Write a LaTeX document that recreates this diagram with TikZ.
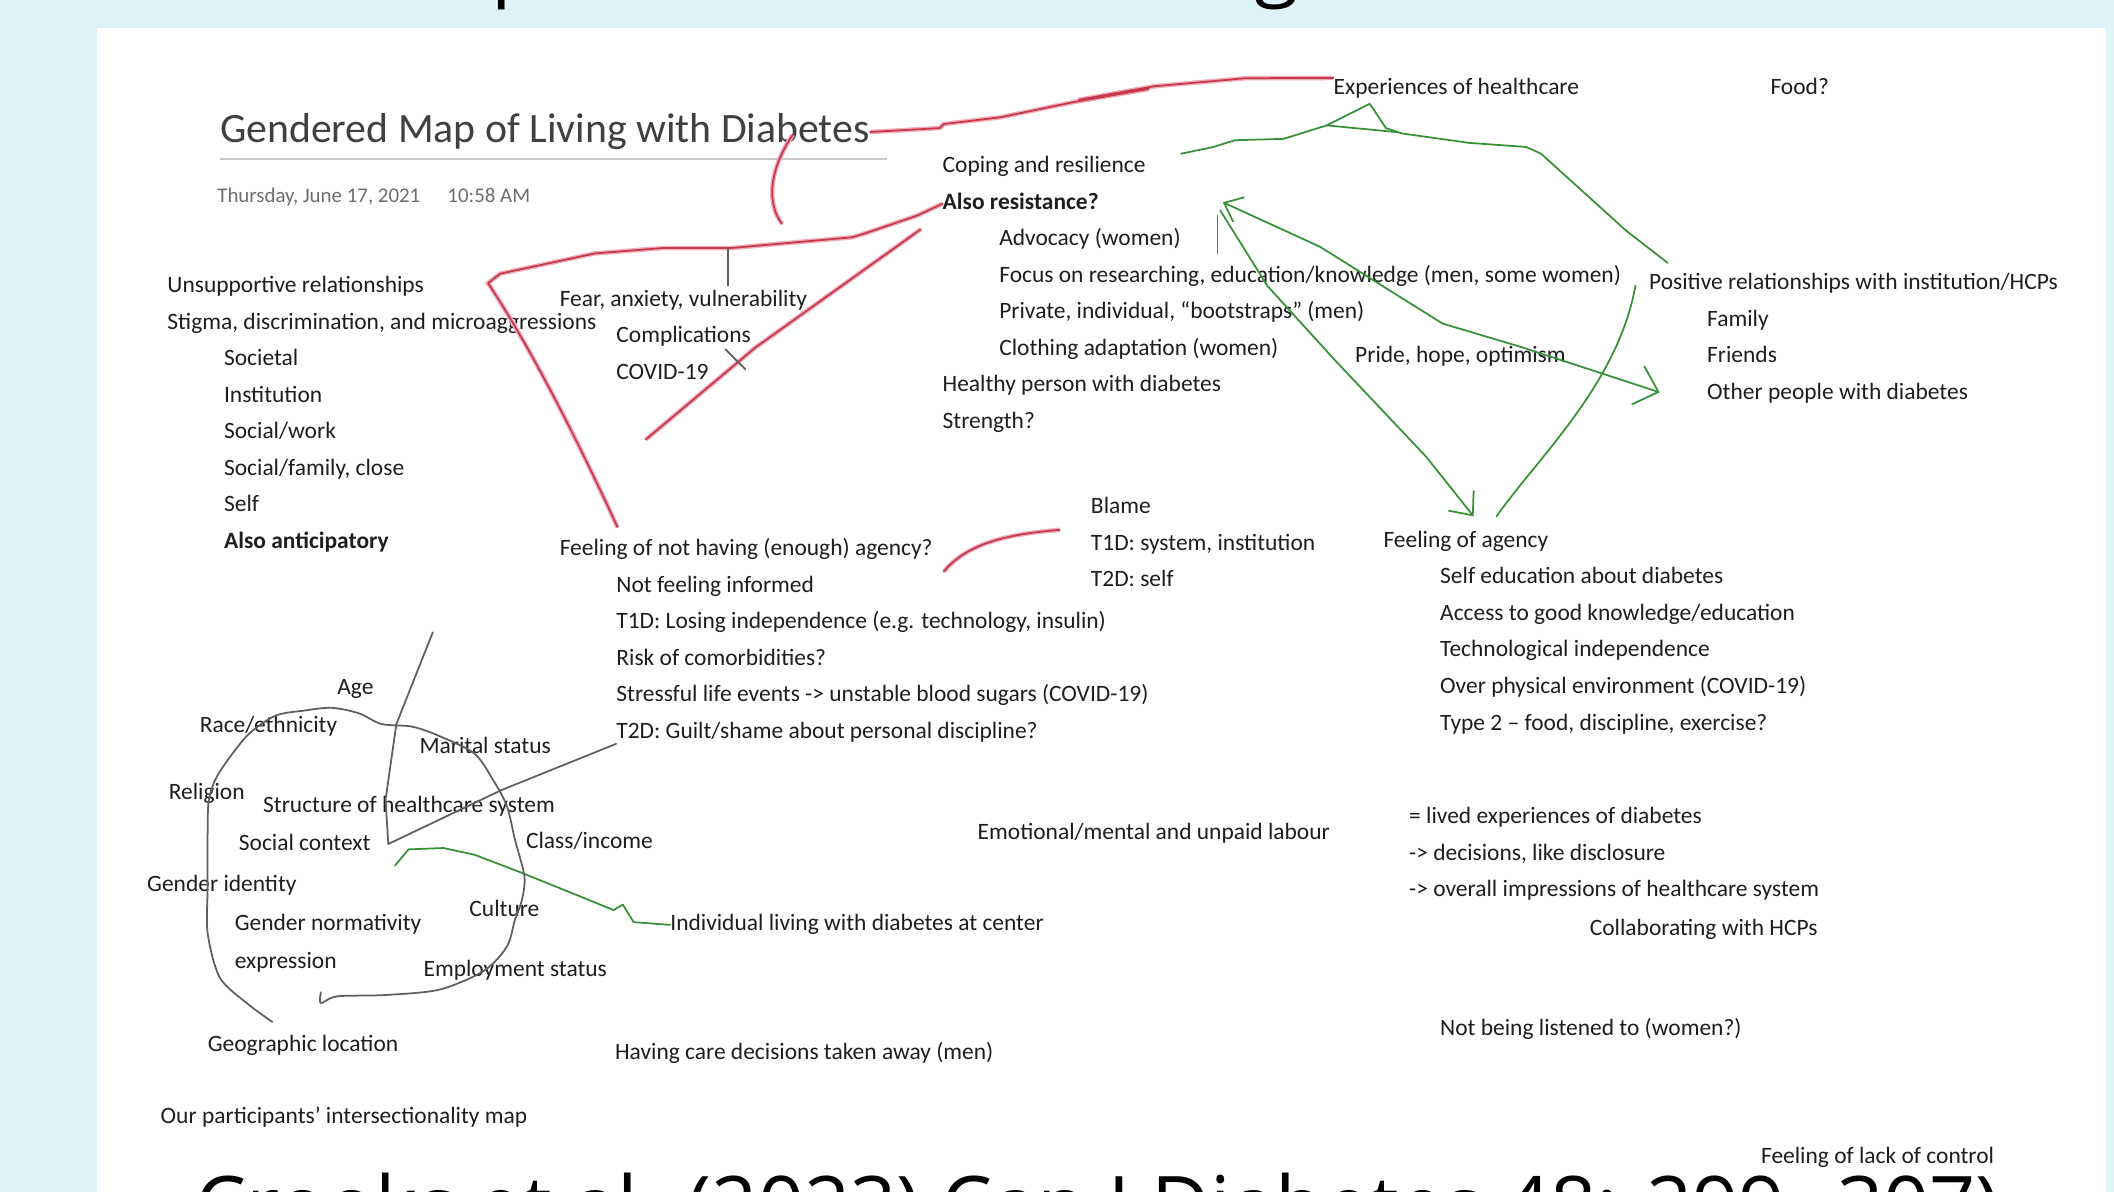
\documentclass[tikz,border=0pt]{standalone}
\usepackage{fontspec}
\setmainfont{Carlito}
\newfontfamily\slidefont{Open Sans}
\usetikzlibrary{arrows.meta, positioning}
\definecolor{slideblue}{RGB}{221,243,249}
\definecolor{inkgray}{RGB}{30,30,30}
\definecolor{titlegray}{RGB}{64,64,64}
\definecolor{dategray}{RGB}{110,110,110}
\definecolor{rulegray}{RGB}{200,200,200}
\definecolor{penred}{RGB}{200,55,75}
\definecolor{penpink}{RGB}{236,175,185}
\definecolor{pengreen}{RGB}{55,145,55}
\definecolor{pengray}{RGB}{95,95,95}

\begin{document}
\begin{tikzpicture}[
  x=1pt, y=-1pt,
  node distance=10.7pt,
  entry/.style={anchor=west, inner sep=0pt, text height=12pt, text depth=4pt,
                font=\fontsize{17.4}{20}\selectfont, text=inkgray},
  sub/.style={entry, below=of #1.south west, anchor=north west},
  pagetitle/.style={anchor=base west, inner sep=0pt, font=\fontsize{31}{36}\selectfont, text=titlegray},
  datestamp/.style={anchor=base west, inner sep=0pt, font=\fontsize{15.5}{18}\selectfont, text=dategray},
  slidetxt/.style={anchor=base west, inner sep=0pt, font=\slidefont\fontsize{60}{66}\selectfont, text=black},
  redpen/.style={draw=penred, line width=1.3pt, line join=round, line cap=round,
                 preaction={draw=penpink, line width=3.4pt}},
  greenpen/.style={draw=pengreen, line width=1.3pt, line join=round, line cap=round},
  graypen/.style={draw=pengray, line width=1.3pt, line join=round, line cap=round},
  barb/.style={-{Straight Barb[length=14pt, width=24pt]}}
]
\useasboundingbox (0,0) rectangle (1568,884);
\clip (0,0) rectangle (1568,884);

% Slide background and the cut-off slide heading
\fill[slideblue] (0,0) rectangle (1568,884);
\node[slidetxt] (glyphp) at (364,-7) {p};
\node[slidetxt] (glyphg) at (930,-7) {g};
\fill[white] (72,21) rectangle (1562,884);

% Page header
\node[pagetitle] (title) at (163,106) {Gendered Map of Living with Diabetes};
\draw[rulegray, line width=2pt] ([yshift=-12pt]title.base west) -- ++(495,0);
\node[datestamp] (date) at (161,150) {Thursday, June 17, 2021\hspace{1.3em}10:58 AM};

% Left column
\node[entry] (unsupp) at (124,213) {Unsupportive relationships};
\node[sub=unsupp] (stigma) {Stigma, discrimination, and microaggressions};
\node[sub=stigma, xshift=42pt] (societal) {Societal};
\node[sub=societal] (institution) {Institution};
\node[sub=institution] (socwork) {Social/work};
\node[sub=socwork] (socfam) {Social/family, close};
\node[sub=socfam] (self) {Self};
\node[sub=self] (anticip) {\bfseries Also anticipatory};

\node[entry] (fear) at (415,223) {Fear, anxiety, vulnerability};
\node[sub=fear, xshift=42pt] (compl) {Complications};
\node[sub=compl] (covid) {COVID-19};

% Coping column
\node[entry] (coping) at (699,124) {Coping and resilience};
\node[sub=coping] (resist) {\bfseries Also resistance?};
\node[sub=resist, xshift=42pt] (advocacy) {Advocacy (women)};
\node[sub=advocacy] (focus) {Focus on researching, education/knowledge (men, some women)};
\node[sub=focus] (private) {Private, individual, ``bootstraps'' (men)};
\node[sub=private] (clothing) {Clothing adaptation (women)};
\node[sub=clothing, xshift=-42pt] (healthy) {Healthy person with diabetes};
\node[sub=healthy] (strength) {Strength?};

% Right column
\node[entry] (exph) at (989,66) {Experiences of healthcare};
\node[entry] (food) at (1313,66) {Food?};
\node[entry] (posrel) at (1223,211) {Positive relationships with institution/HCPs};
\node[sub=posrel, xshift=43pt] (family) {Family};
\node[sub=family] (friends) {Friends};
\node[sub=friends] (others) {Other people with diabetes};
\node[entry] (pride) at (1005,265) {Pride, hope, optimism};

% Agency
\node[entry] (notagency) at (415,408) {Feeling of not having (enough) agency?};
\node[sub=notagency, xshift=42pt] (notinf) {Not feeling informed};
\node[sub=notinf] (t1dlose) {T1D: Losing independence (e.g. technology, insulin)};
\node[sub=t1dlose] (risk) {Risk of comorbidities?};
\node[sub=risk] (stress) {Stressful life events -> unstable blood sugars (COVID-19)};
\node[sub=stress] (t2dguilt) {T2D: Guilt/shame about personal discipline?};

\node[entry] (blame) at (809,377) {Blame};
\node[sub=blame] (t1dsys) {T1D: system, institution};
\node[sub=t1dsys] (t2dself) {T2D: self};

\node[entry] (agency) at (1026,402) {Feeling of agency};
\node[sub=agency, xshift=42pt] (selfedu) {Self education about diabetes};
\node[sub=selfedu] (access) {Access to good knowledge/education};
\node[sub=access] (techind) {Technological independence};
\node[sub=techind] (overphys) {Over physical environment (COVID-19)};
\node[sub=overphys] (type2) {Type 2 -- food, discipline, exercise?};

% Intersectionality map
\node[entry] (age) at (250,511) {Age};
\node[entry] (race) at (148,539) {Race/ethnicity};
\node[entry] (marital) at (311,555) {Marital status};
\node[entry] (religion) at (125,589) {Religion};
\node[entry] (structure) at (195,599) {Structure of healthcare system};
\node[entry] (socctx) at (177,627) {Social context};
\node[entry] (class) at (390,625) {Class/income};
\node[entry] (genid) at (109,657) {Gender identity};
\node[entry] (gennorm) at (174,686) {Gender normativity};
\node[entry] (culture) at (348,676) {Culture};
\node[entry] (expr) at (174,714) {expression};
\node[entry] (employ) at (314,720) {Employment status};
\node[entry] (geo) at (154,776) {Geographic location};
\node[entry] (indiv) at (497,686) {Individual living with diabetes at center};
\node[entry] (care) at (456,782) {Having care decisions taken away (men)};
\node[entry] (ourmap) at (119,829) {Our participants' intersectionality map};

% Lower right
\node[entry] (emot) at (725,619) {Emotional/mental and unpaid labour};
\node[entry] (lived) at (1045,607) {= lived experiences of diabetes};
\node[sub=lived] (decis) {-{}> decisions, like disclosure};
\node[sub=decis] (overall) {-{}> overall impressions of healthcare system};
\node[entry] (collab) at (1179,690) {Collaborating with HCPs};
\node[entry] (listened) at (1068,764) {Not being listened to (women?)};
\node[entry] (lackctrl) at (1306,859) {Feeling of lack of control};

% Cut-off citation
\node[slidetxt] (cite) at (145,916) {Crooks et al. (2023) Can J Diabetes 48: 299--307)};

% Red strokes
\draw[redpen] (title.east) -- (697,95) -- (700,92) -- (742,87) -- (795,76) -- (852,66)
  -- (800,74) -- (856,64) -- (924,58) -- (exph.north west);
\draw[redpen] (588,100) .. controls (571,125) and (568,150) .. (580,166);
\draw[redpen] (resist.west) -- (680,160) -- (642,173) -- (632,176) -- (542,184) -- (491,184)
  -- (441,188) -- (371,203) -- (362,210) .. controls (395,260) and (430,330) .. (458,391);
\draw[redpen] (683,170) -- (560,258) -- (479,326);
\draw[redpen] (700,424) .. controls (718,402) and (750,396) .. (786,393);

% Dark ticks
\draw[graypen] (540,184) -- (540,212);
\draw[graypen] (538,259) -- (553,274);

% Green strokes
\draw[greenpen] (876,114) -- (900,109) -- (916,104) -- (952,103) -- (984,93) -- (1016,77)
  -- (1028,95) -- (1040,99) -- (1090,106) -- (1132,109) -- (1143,114) -- (1206,171) -- (1237,195);
\draw[greenpen] (984,93) -- (1036,98);
\draw[greenpen, {Straight Barb[length=12pt, width=20pt]}-{Straight Barb[length=16pt, width=30pt]}]
  (907,150) -- (979,183) -- (1070,240) -- (1127,257) -- (1231,291);
\draw[greenpen, barb] (905,156) -- (940,212) -- (990,267) -- (1058,339) -- (1093,383);
\draw[greenpen] (903,160) -- (903,188);
\draw[greenpen] (1213,212) .. controls (1200,285) and (1140,340) .. (1110,383);
\draw[greenpen] (293,642) -- (303,630) -- (329,629) -- (352,634) -- (386,647) -- (438,668)
  -- (455,675) -- (462,671) -- (470,684) -- (indiv.west);

% Gray intersectionality circle
\draw[graypen] plot[smooth, tension=0.5] coordinates {(202,758) (183,744) (163,725) (154,692)
  (154,658) (154,618) (155,593) (162,574) (183,546) (204,531) (226,527) (246,525) (266,529)
  (283,537) (306,539) (326,546) (352,559) (366,579) (376,598) (382,623) (389,650) (387,668)
  (382,682) (376,702) (359,720) (326,734) (286,738) (250,739) (238,744) (238,736)};
\draw[graypen] (321,469) -- (294,537) -- (286,593) -- (288,626) -- (372,586) -- (t2dguilt.south west);
\end{tikzpicture}
\end{document}
